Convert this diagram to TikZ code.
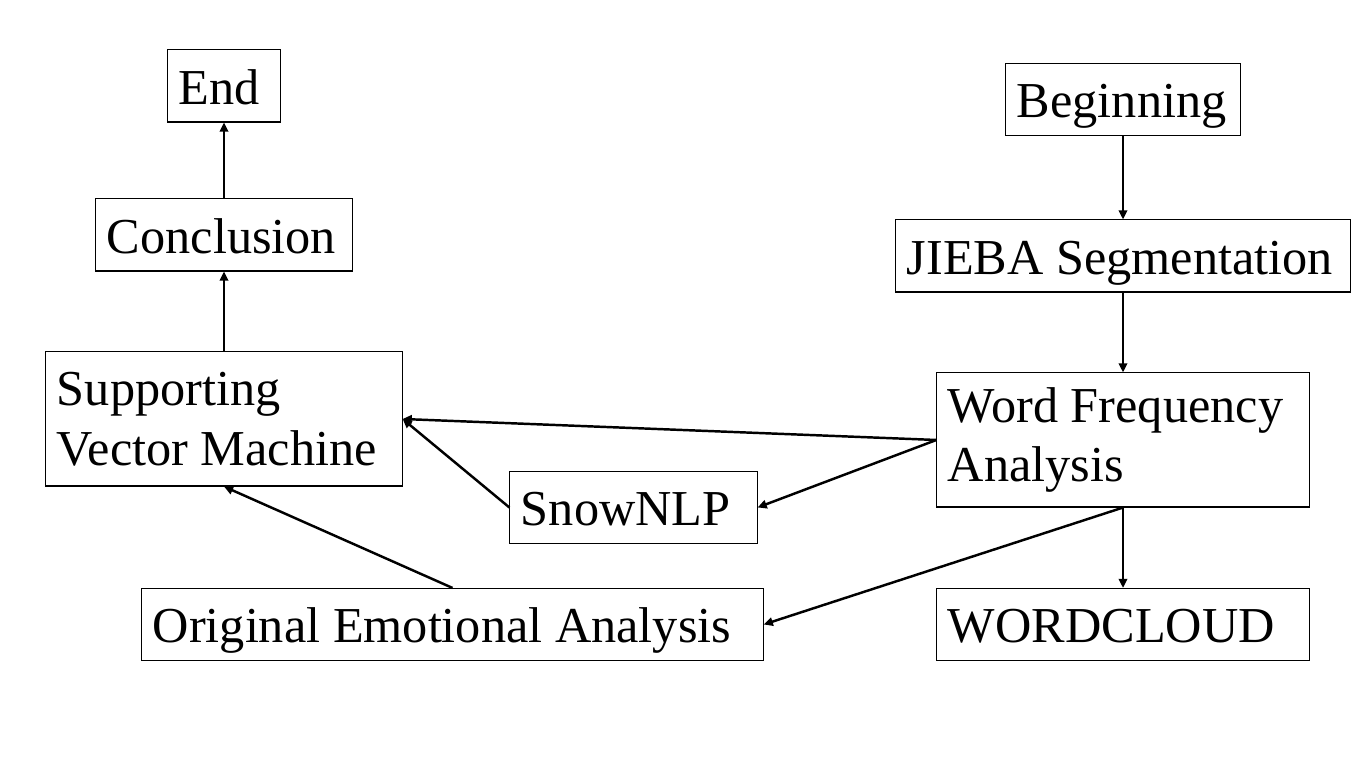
\documentclass[tikz,border=0pt]{standalone}
\usepackage{fontspec}
\setmainfont{Liberation Serif}
\usetikzlibrary{arrows.meta,positioning}

\begin{document}
\begin{tikzpicture}[x=0.01cm,y=-0.01cm,
  -{Triangle[length=2.6pt,width=2.4pt]},line width=0.7pt,
  every node/.append style={font=\fontsize{14.3}{17}\selectfont}]
  \tikzstyle{box} = [draw,line width=0.3pt,inner xsep=0.11cm,inner ysep=0pt,align=flush left]
  \tikzstyle{one} = [box,minimum height=0.72cm,text height=0.45cm,text depth=0.08cm]
  \tikzstyle{two} = [box,minimum height=1.34cm]
  \useasboundingbox (0,0) rectangle (1366,768);
  % left column
  \node (end_) [one,text width=0.90cm] at (224,86) {End};
  \node (concl) [one,text width=2.34cm] at (224,235) {Conclusion};
  \node (svm) [two,text width=3.34cm] at (224,419) {Supporting\\Vector Machine};
  % right column
  \node (begin) [one,text width=2.12cm] at (1123,99.5) {Beginning};
  \node (jieba) [one,text width=4.32cm] at (1123,256) {JIEBA Segmentation};
  \node (wfa) [two,text width=3.50cm] at (1123,440) {Word Frequency\\Analysis};
  \node (cloud) [one,text width=3.50cm] at (1123,624.5) {WORDCLOUD};
  % middle
  \node (snow) [one,text width=2.25cm] at (633.5,507.5) {SnowNLP};
  \node (oea) [one,text width=5.99cm] at (452.5,624.5) {Original Emotional Analysis};
  \draw (begin) -- (jieba);
  \draw (jieba) -- (wfa);
  \draw (wfa) -- (cloud);
  \draw (wfa.west) -- (svm.east);
  \draw (wfa.west) -- (snow.east);
  \draw (snow.west) -- (svm.east);
  \draw (wfa.south) -- (oea.east);
  \draw (oea.north) -- (svm.south);
  \draw (svm) -- (concl);
  \draw (concl) -- (end_);
\end{tikzpicture}
\end{document}
